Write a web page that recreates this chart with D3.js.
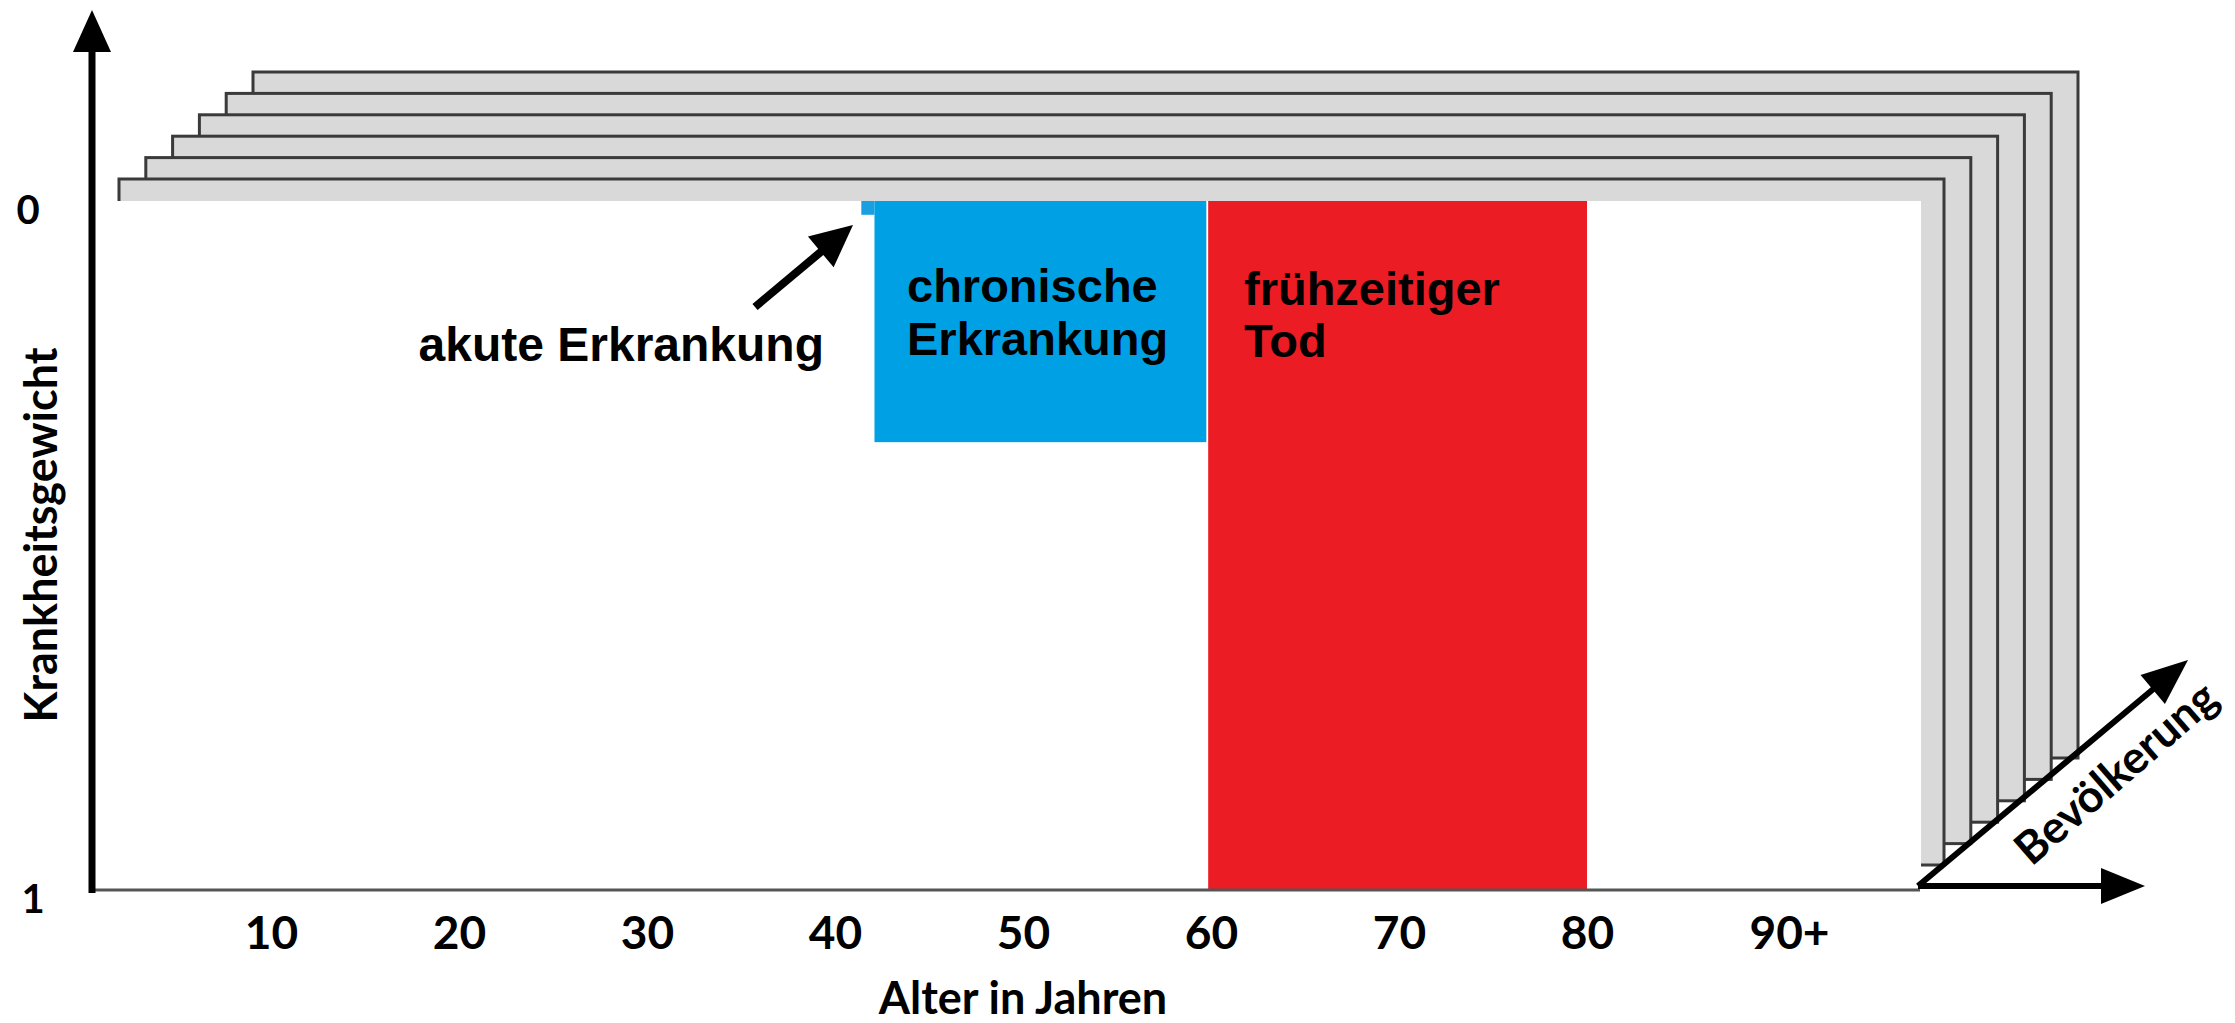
<!DOCTYPE html>
<meta charset="utf-8">
<style>
body { margin: 0; background: #fff; }
.lbl { font-family: Lato, "Open Sans", sans-serif; font-weight: 700; fill: #000; }
.note { font-family: "Liberation Sans", Arial, sans-serif; font-weight: 700; fill: #000; font-size: 47px; }
</style>
<body>
<script src="https://d3js.org/d3.v7.min.js"></script>
<script>
// burden of disease over the life course: weight (0 = healthy, 1 = dead) per age
var ageTicks = [10, 20, 30, 40, 50, 60, 70, 80, 90];
var ageTickLabels = ["10", "20", "30", "40", "50", "60", "70", "80", "90+"];
var weightTicks = [0, 1];

var burdenNames = ["akute Erkrankung", "chronische Erkrankung", "frühzeitiger Tod"];
var burdenStart = [41.4, 42.1, 59.85];
var burdenEnd = [42.1, 59.75, 80];
var burdenWeight = [0.02, 0.35, 1];
var burdenColors = ["#1a9fe0", "#00a1e4", "#ec1c24"];

// stacked sheets standing for the population dimension
var populationLayers = [5, 4, 3, 2, 1, 0];

var width = 2235, height = 1023;

var x = d3.scaleLinear().domain([0, 90]).range([83, 1775]);
var y = d3.scaleLinear().domain([0, 1]).range([201, 890]);

var layerDx = d3.scaleLinear().domain([0, 5]).range([0, 134]);
var layerDy = d3.scaleLinear().domain([0, 5]).range([0, -107]);

var svg = d3.select("body").append("svg")
    .attr("width", width)
    .attr("height", height);

// sheets, back to front
svg.append("g").selectAll("rect")
    .data(populationLayers)
  .enter().append("rect")
    .attr("x", function(d) { return 119 + layerDx(d); })
    .attr("y", function(d) { return 179 + layerDy(d); })
    .attr("width", 1944 - 119)
    .attr("height", 865 - 179)
    .style("fill", "#d9d9d9")
    .style("stroke", "#3a3a3a")
    .style("stroke-width", 3);

// plot area
svg.append("rect")
    .attr("x", 96)
    .attr("y", y(0))
    .attr("width", 1921 - 96)
    .attr("height", 700)
    .style("fill", "#fff");

// bars
var bars = burdenNames.map(function(n, i) {
  return {name: n, start: burdenStart[i], end: burdenEnd[i], w: burdenWeight[i], color: burdenColors[i]};
});

svg.append("g").selectAll("rect")
    .data(bars)
  .enter().append("rect")
    .attr("x", function(d) { return x(d.start); })
    .attr("y", y(0))
    .attr("width", function(d) { return x(d.end) - x(d.start); })
    .attr("height", function(d) { return y(d.w) - y(0); })
    .style("fill", function(d) { return d.color; });

// x axis line
svg.append("line")
    .attr("x1", 90).attr("x2", 1920)
    .attr("y1", y(1)).attr("y2", y(1))
    .style("stroke", "#555")
    .style("stroke-width", 3);

function arrow(x1, y1, x2, y2, w, headLen, headW) {
  var dx = x2 - x1, dy = y2 - y1, len = Math.sqrt(dx * dx + dy * dy);
  var ux = dx / len, uy = dy / len, nx = -uy, ny = ux;
  var bx = x2 - ux * headLen, by = y2 - uy * headLen;
  svg.append("line")
      .attr("x1", x1).attr("y1", y1)
      .attr("x2", bx + ux * 2).attr("y2", by + uy * 2)
      .style("stroke", "#000")
      .style("stroke-width", w);
  svg.append("path")
      .attr("d", "M" + x2 + "," + y2 +
                 "L" + (bx + nx * headW) + "," + (by + ny * headW) +
                 "L" + (bx - nx * headW) + "," + (by - ny * headW) + "Z")
      .style("fill", "#000");
}

// y axis arrow
arrow(92, 893, 92, 10, 7, 42, 19);
// age arrow and population arrow
arrow(1918, 886, 2145, 886, 6, 44, 18);
arrow(1918, 886, 2188, 660, 6, 46, 19);
// pointer to the acute illness
arrow(755, 307, 853, 225, 8, 42, 20);

// axes
var xAxis = d3.axisBottom(x)
    .tickValues(ageTicks)
    .tickSize(0)
    .tickPadding(26)
    .tickFormat(function(d, i) { return ageTickLabels[i]; });

var gx = svg.append("g")
    .attr("transform", "translate(0," + y(1) + ")")
    .call(xAxis);
gx.select(".domain").remove();
gx.selectAll("text")
    .attr("class", "lbl")
    .style("font-size", "46px")
    .attr("dx", function(d) { return d == 90 ? 14 : 0; });

var yAxis = d3.axisLeft(y)
    .tickValues(weightTicks)
    .tickSize(0)
    .tickFormat(d3.format("d"));

var gy = svg.append("g")
    .attr("transform", "translate(92,0)")
    .call(yAxis);
gy.select(".domain").remove();
gy.selectAll("text")
    .attr("class", "lbl")
    .style("font-size", "40px")
    .attr("text-anchor", "middle")
    .attr("x", function(d) { return d == 0 ? -64 : -59; })
    .attr("dy", "0.55em");

svg.append("text")
    .attr("class", "lbl")
    .attr("x", 1023)
    .attr("y", 1014)
    .attr("text-anchor", "middle")
    .style("font-size", "45px")
    .text("Alter in Jahren");

svg.append("text")
    .attr("class", "lbl")
    .attr("transform", "translate(57,535) rotate(-90)")
    .attr("text-anchor", "middle")
    .style("font-size", "45px")
    .text("Krankheitsgewicht");

svg.append("text")
    .attr("class", "lbl")
    .attr("transform", "translate(2115,772) rotate(-41)")
    .attr("text-anchor", "middle")
    .attr("dominant-baseline", "central")
    .style("font-size", "45px")
    .text("Bevölkerung");

// annotations
svg.append("text")
    .attr("class", "note")
    .attr("x", 824)
    .attr("y", 361)
    .attr("text-anchor", "end")
    .style("font-size", "48px")
    .text(burdenNames[0]);

var chronic = svg.append("text").attr("class", "note");
chronic.append("tspan").attr("x", 907).attr("y", 302).text("chronische");
chronic.append("tspan").attr("x", 907).attr("y", 355).text("Erkrankung");

var death = svg.append("text").attr("class", "note");
death.append("tspan").attr("x", 1244).attr("y", 305).text("frühzeitiger");
death.append("tspan").attr("x", 1244).attr("y", 357).text("Tod");
</script>
</body>
